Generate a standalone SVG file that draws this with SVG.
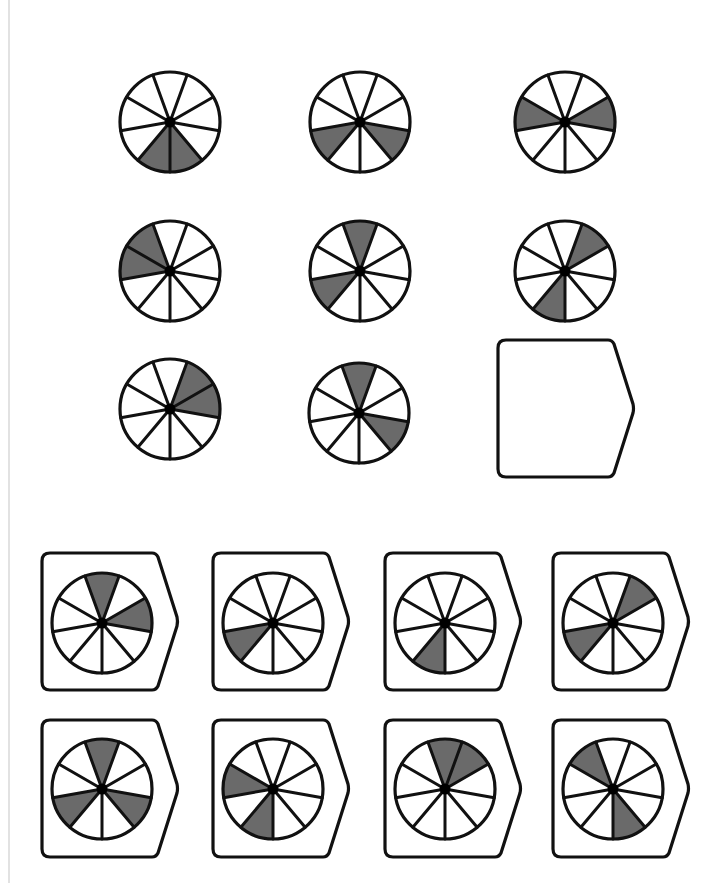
<svg xmlns="http://www.w3.org/2000/svg" xmlns:xlink="http://www.w3.org/1999/xlink" width="707" height="883" viewBox="0 0 707 883">
<style>
.sh{fill:#6a6a6a;stroke:none}
.sp{stroke:#111;stroke-width:3;fill:none;stroke-linecap:round}
.rim{fill:none;stroke:#111;stroke-width:3.2}
.bg{fill:#fff;stroke:none}
.box{fill:#fff;stroke:#111;stroke-width:3.2;stroke-linejoin:round}
</style>
<defs>
<circle id="bgc" class="bg" r="50"/>
<path id="s0" class="sh" d="M0 0 L-17.10 -46.98 A50 50 0 0 1 17.10 -46.98 Z"/>
<path id="s1" class="sh" d="M0 0 L17.10 -46.98 A50 50 0 0 1 43.30 -25 Z"/>
<path id="s2" class="sh" d="M0 0 L43.30 -25 A50 50 0 0 1 49.24 8.68 Z"/>
<path id="s3" class="sh" d="M0 0 L49.24 8.68 A50 50 0 0 1 32.14 38.30 Z"/>
<path id="s4" class="sh" d="M0 0 L32.14 38.30 A50 50 0 0 1 0 50 Z"/>
<path id="s5" class="sh" d="M0 0 L0 50 A50 50 0 0 1 -32.14 38.30 Z"/>
<path id="s6" class="sh" d="M0 0 L-32.14 38.30 A50 50 0 0 1 -49.24 8.68 Z"/>
<path id="s7" class="sh" d="M0 0 L-49.24 8.68 A50 50 0 0 1 -43.30 -25 Z"/>
<path id="s8" class="sh" d="M0 0 L-43.30 -25 A50 50 0 0 1 -17.10 -46.98 Z"/>
<g id="wheel">
<path class="sp" d="M0 0 L17.10 -46.98 M0 0 L43.30 -25 M0 0 L49.24 8.68 M0 0 L32.14 38.30 M0 0 L0 50 M0 0 L-32.14 38.30 M0 0 L-49.24 8.68 M0 0 L-43.30 -25 M0 0 L-17.10 -46.98"/>
<circle class="rim" r="50"/>
<circle r="5.5" fill="#000"/>
</g>
<path id="boxshape" class="box" d="M8,0 L110,0 Q114,0 116,4 L135,64 Q136,68.5 135,73 L116,133 Q114,137 110,137 L8,137 Q0,137 0,129 L0,8 Q0,0 8,0 Z"/>
</defs>
<rect width="707" height="883" fill="#fff"/>
<line x1="9" y1="0" x2="9" y2="883" stroke="#e2e2e2" stroke-width="2"/>

<g id="p1" transform="translate(170,122)"><use href="#bgc"/><use href="#s4"/><use href="#s5"/><use href="#wheel"/></g>
<g id="p2" transform="translate(360,122)"><use href="#bgc"/><use href="#s3"/><use href="#s6"/><use href="#wheel"/></g>
<g id="p3" transform="translate(565,122)"><use href="#bgc"/><use href="#s2"/><use href="#s7"/><use href="#wheel"/></g>
<g id="p4" transform="translate(170,271)"><use href="#bgc"/><use href="#s7"/><use href="#s8"/><use href="#wheel"/></g>
<g id="p5" transform="translate(360,271)"><use href="#bgc"/><use href="#s0"/><use href="#s6"/><use href="#wheel"/></g>
<g id="p6" transform="translate(565,271)"><use href="#bgc"/><use href="#s1"/><use href="#s5"/><use href="#wheel"/></g>
<g id="p7" transform="translate(170,409)"><use href="#bgc"/><use href="#s1"/><use href="#s2"/><use href="#wheel"/></g>
<g id="p8" transform="translate(359,413)"><use href="#bgc"/><use href="#s0"/><use href="#s3"/><use href="#wheel"/></g>
<g id="blank" transform="translate(498,340)"><use href="#boxshape"/></g>

<g id="optA" transform="translate(42,553)"><use href="#boxshape"/><g transform="translate(60,70)"><use href="#bgc"/><use href="#s0"/><use href="#s2"/><use href="#wheel"/></g></g>
<g id="optB" transform="translate(213,553)"><use href="#boxshape"/><g transform="translate(60,70)"><use href="#bgc"/><use href="#s6"/><use href="#wheel"/></g></g>
<g id="optC" transform="translate(385,553)"><use href="#boxshape"/><g transform="translate(60,70)"><use href="#bgc"/><use href="#s5"/><use href="#wheel"/></g></g>
<g id="optD" transform="translate(553,553)"><use href="#boxshape"/><g transform="translate(60,70)"><use href="#bgc"/><use href="#s1"/><use href="#s6"/><use href="#wheel"/></g></g>
<g id="optE" transform="translate(42,720)"><use href="#boxshape"/><g transform="translate(60,69)"><use href="#bgc"/><use href="#s0"/><use href="#s3"/><use href="#s6"/><use href="#wheel"/></g></g>
<g id="optF" transform="translate(213,720)"><use href="#boxshape"/><g transform="translate(60,69)"><use href="#bgc"/><use href="#s7"/><use href="#s5"/><use href="#wheel"/></g></g>
<g id="optG" transform="translate(385,720)"><use href="#boxshape"/><g transform="translate(60,69)"><use href="#bgc"/><use href="#s0"/><use href="#s1"/><use href="#wheel"/></g></g>
<g id="optH" transform="translate(553,720)"><use href="#boxshape"/><g transform="translate(60,69)"><use href="#bgc"/><use href="#s8"/><use href="#s4"/><use href="#wheel"/></g></g>
<g id="connectors"></g>
</svg>
